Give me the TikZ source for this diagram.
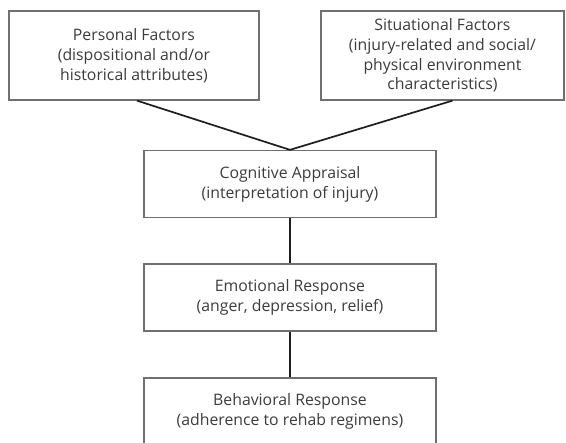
\documentclass[tikz,border=0pt]{standalone}
\usepackage{fontspec}
\setmainfont{Open Sans}
\definecolor{txt}{HTML}{3C3C3C}
\definecolor{brd}{HTML}{707070}
\definecolor{con}{HTML}{1E1E1E}
\tikzset{
  box/.style={draw=brd, line width=1.3pt, fill=white, align=center, text=txt,
    font=\fontsize{15.8}{19.8}\selectfont, inner sep=0pt},
  link/.style={draw=con, line width=1.7pt}
}
\begin{document}
\begin{tikzpicture}[x=1pt,y=-1pt]
\useasboundingbox (0,0) rectangle (566,443);
\clip (0,0) rectangle (566,443);
\fill[white] (0,0) rectangle (566,443);
\node[box, minimum width=250pt, minimum height=89pt] (pers) at (134,55.5)
  {Personal Factors\\(dispositional and/or\\historical attributes)};
\node[box, minimum width=243pt, minimum height=89pt] (sit) at (442.5,55.5)
  {Situational Factors\\(injury-related and social/\\physical environment\\characteristics)};
\node[box, minimum width=292pt, minimum height=67pt] (cog) at (290,184)
  {Cognitive Appraisal\\(interpretation of injury)};
\node[box, minimum width=292pt, minimum height=67pt] (emo) at (290,297.5)
  {Emotional Response\\(anger, depression, relief)};
\node[box, minimum width=292pt, minimum height=67pt] (beh) at (290,411.5)
  {Behavioral Response\\(adherence to rehab regimens)};
\draw[link] ([xshift=3pt]pers.south) -- (cog.north);
\draw[link] ([xshift=10pt]sit.south) -- (cog.north);
\draw[link] (cog.south) -- (emo.north);
\draw[link] (emo.south) -- (beh.north);
\end{tikzpicture}
\end{document}
